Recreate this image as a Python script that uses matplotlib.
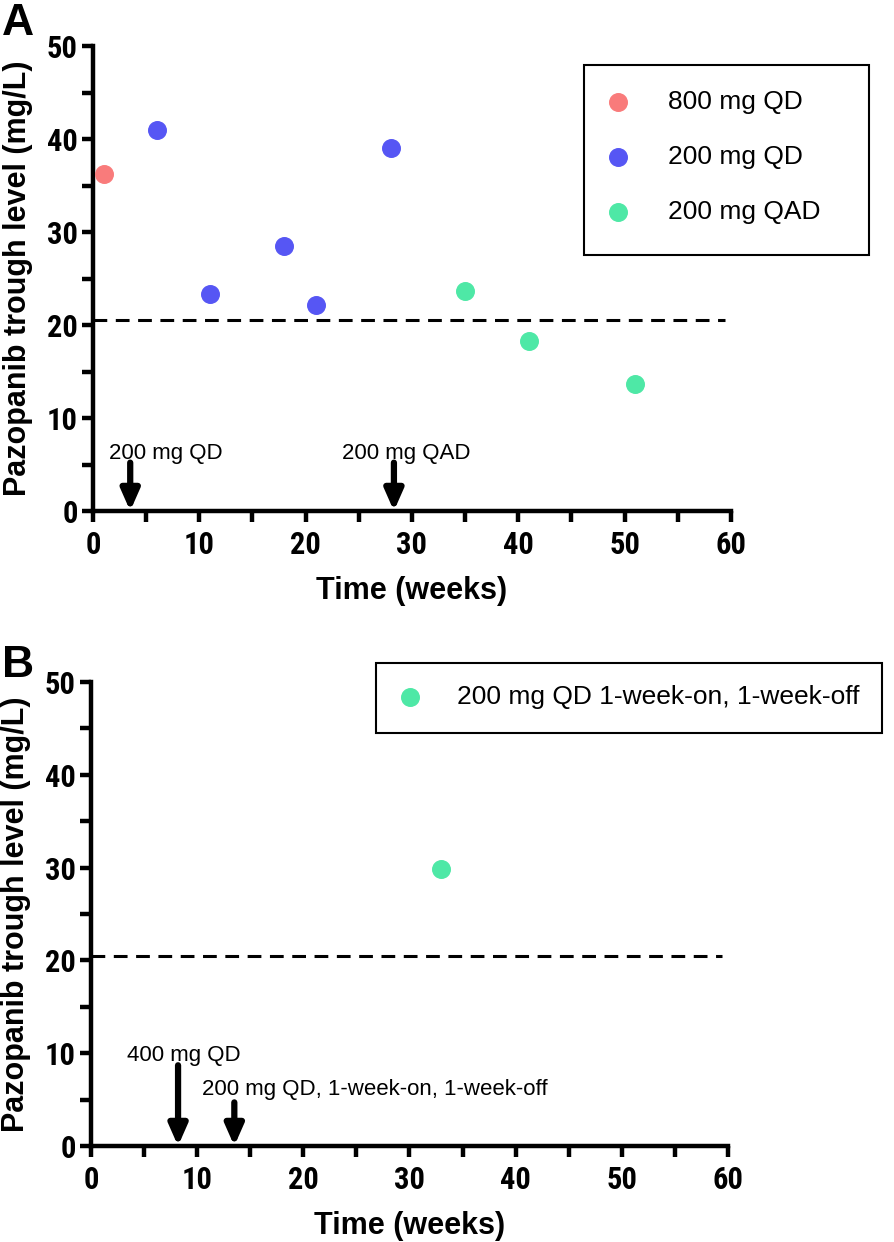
import matplotlib.pyplot as plt
from matplotlib.ticker import MultipleLocator
from matplotlib.patches import Rectangle

# panel A data
qd800_t = [1]
qd800_c = [36.2]
qd200_t = [6, 11, 18, 21, 28]
qd200_c = [41.0, 23.3, 28.5, 22.1, 39.0]
qad_t = [35, 41, 51]
qad_c = [23.7, 18.3, 13.7]
# panel B data
onoff_t = [33]
onoff_c = [29.8]
target = 20.5

# (arrow x, arrow top, label, label left x, label baseline)
arrows_a = [(3.5, 5.2, "200 mg QD", 1.5, 5.6), (28.3, 5.2, "200 mg QAD", 23.4, 5.6)]
arrows_b = [(8.2, 8.7, "400 mg QD", 3.4, 9.2), (13.5, 4.7, "200 mg QD, 1-week-on, 1-week-off", 10.5, 5.5)]

red = "#f97b7b"
blue = "#5656f4"
green = "#4ee8a6"

cond = "Roboto Condensed"
arial = "Liberation Sans"

W, H = 895, 1242
fig = plt.figure(figsize=(W / 100, H / 100), dpi=100)
axA = fig.add_axes([93 / W, 1 - 511 / H, 638 / W, 465 / H])
axB = fig.add_axes([91 / W, 1 - 1146 / H, 637 / W, 464 / H])


def style(ax):
    ax.set_xlim(0, 60)
    ax.set_ylim(0, 50)
    for s in ["top", "right"]:
        ax.spines[s].set_visible(False)
    for s in ["left", "bottom"]:
        ax.spines[s].set_linewidth(3.2)
    ax.xaxis.set_major_locator(MultipleLocator(10))
    ax.xaxis.set_minor_locator(MultipleLocator(5))
    ax.yaxis.set_major_locator(MultipleLocator(10))
    ax.yaxis.set_minor_locator(MultipleLocator(5))
    ax.tick_params(which="both", width=3.2, length=8, direction="out")
    ax.tick_params(axis="x", pad=6)
    ax.tick_params(axis="y", pad=3)
    for lab in ax.get_xticklabels() + ax.get_yticklabels():
        lab.set_fontfamily(cond)
        lab.set_fontweight("bold")
        lab.set_fontsize(22)
    ax.set_xlabel("Time (weeks)", fontsize=22, fontweight="bold", family=arial)
    ax.xaxis.set_label_coords(0.5, -0.14)
    ax.set_ylabel("Pazopanib trough level (mg/L)", fontsize=22, fontweight="bold", family=arial)
    ax.yaxis.set_label_coords(-0.094, 0.5)
    ax.axhline(target, xmax=0.99, color="black", lw=2.2, ls=(0, (4.5, 2.8)))


def arrows(ax, items):
    for x, top, text, tx, ty in items:
        ax.annotate("", xy=(x, 0), xytext=(x, top),
                    arrowprops=dict(arrowstyle="-|>,head_width=0.55,head_length=1.25",
                                    mutation_scale=10, color="black", lw=4.5,
                                    shrinkA=0, shrinkB=0))
        ax.text(tx, ty, text, ha="left", va="baseline", fontsize=16, family=arial)


sz = 160
axA.scatter(qd800_t, qd800_c, s=sz, color=red, label="800 mg QD", zorder=3)
axA.scatter(qd200_t, qd200_c, s=sz, color=blue, label="200 mg QD", zorder=3)
axA.scatter(qad_t, qad_c, s=sz, color=green, label="200 mg QAD", zorder=3)
style(axA)
arrows(axA, arrows_a)
axA.legend(loc="upper left", bbox_to_anchor=(605 / W, 1 - 90 / H), bbox_transform=fig.transFigure,
           frameon=False, borderpad=0, borderaxespad=0, labelspacing=1.17, handlelength=1.0,
           handletextpad=1.39, prop={"family": arial, "size": 19})
fig.patches.append(Rectangle((584 / W, 1 - 255 / H), 285 / W, 190 / H, transform=fig.transFigure,
                             fill=False, edgecolor="black", lw=1.5))

axB.scatter(onoff_t, onoff_c, s=sz, color=green, label="200 mg QD 1-week-on, 1-week-off", zorder=3)
style(axB)
arrows(axB, arrows_b)
axB.legend(loc="upper left", bbox_to_anchor=(397 / W, 1 - 685 / H), bbox_transform=fig.transFigure,
           frameon=False, borderpad=0, borderaxespad=0, handlelength=1.0,
           handletextpad=1.27, prop={"family": arial, "size": 19})
fig.patches.append(Rectangle((376 / W, 1 - 733 / H), 506 / W, 70 / H, transform=fig.transFigure,
                             fill=False, edgecolor="black", lw=1.5))

fig.text(2 / W, 1 - 3 / H, "A", fontsize=32, fontweight="bold", family=arial, va="top")
fig.text(2 / W, 1 - 645 / H, "B", fontsize=32, fontweight="bold", family=arial, va="top")

fig.savefig("out.png", dpi=100)
